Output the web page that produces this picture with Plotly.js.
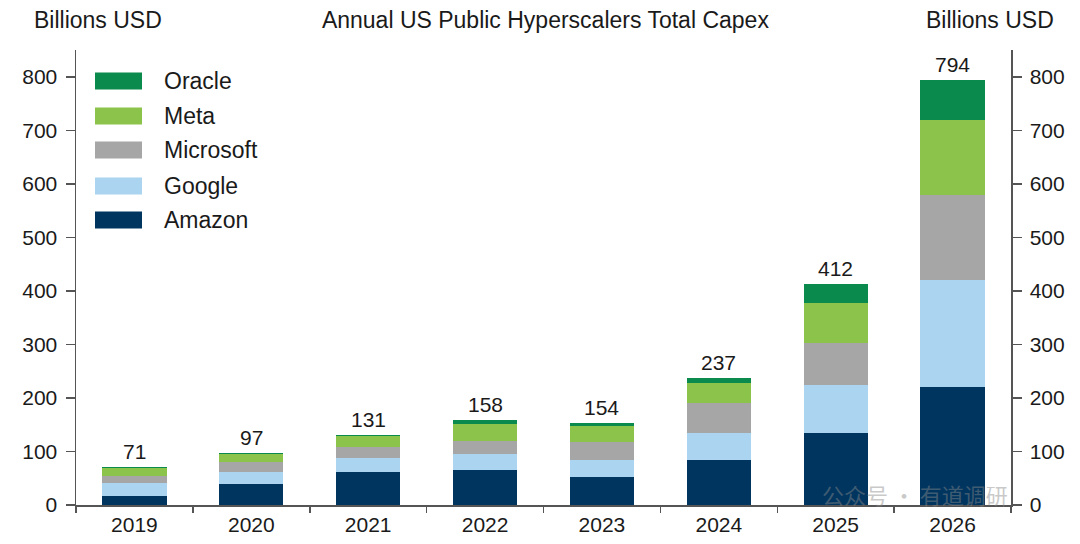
<!DOCTYPE html>
<html><head><meta charset="utf-8">
<script src="https://cdn.plot.ly/plotly-3.0.1.min.js"></script>
<style>html,body{margin:0;padding:0;background:#fff}</style>
</head><body>
<div id="chart" style="width:1080px;height:544px"></div>
<script>
// ---- data ----
const years = ['2019', '2020', '2021', '2022', '2023', '2024', '2025', '2026'];
const amazon    = [17, 40, 62, 66, 52, 84, 134, 220];
const google    = [24, 22, 25, 29, 32, 50, 90, 200];
const microsoft = [14, 18, 22, 25, 34, 56, 79, 160];
const meta      = [15, 15, 19, 32, 29, 38, 75, 140];
const oracle    = [1, 2, 3, 6, 7, 9, 34, 74];
const totals    = [71, 97, 131, 158, 154, 237, 412, 794];
const yTicks    = [0, 100, 200, 300, 400, 500, 600, 700, 800];

const seriesNames  = ['Amazon', 'Google', 'Microsoft', 'Meta', 'Oracle'];
const seriesValues = [amazon, google, microsoft, meta, oracle];
const seriesColors = ['#00355f', '#aad4f0', '#a6a6a6', '#8cc34a', '#0a8a4c'];

// ---- layout geometry (pixels) ----
const W = 1080, H = 544;
const M = {l: 76, r: 69, t: 50, b: 39};
const PW = W - M.l - M.r, PH = H - M.t - M.b;
const px = x => (x - M.l) / PW;
const py = y => (H - M.b - y) / PH;
const FONT = '"Liberation Sans", Arial, sans-serif';
const TXT = '#1a1a1a';
const AX = '#555555';

const traces = seriesNames.map((name, i) => ({
  type: 'bar', name: name, x: years, y: seriesValues[i],
  marker: {color: seriesColors[i], line: {width: 0}},
  hoverinfo: 'x+y+name', showlegend: false
}));
// invisible trace on the right axis so y2 is drawn
traces.push({type: 'scatter', x: years, y: totals, yaxis: 'y2', mode: 'markers',
  marker: {opacity: 0}, showlegend: false, hoverinfo: 'skip'});

const annotations = [];
const shapes = [];
years.forEach((yr, i) => {
  annotations.push({x: i, y: totals[i], xref: 'x', yref: 'y', text: String(totals[i]),
    showarrow: false, yanchor: 'bottom', yshift: 2, font: {family: FONT, size: 21, color: TXT}});
});
// header texts
annotations.push({xref: 'paper', yref: 'paper', x: px(32), y: py(20), xanchor: 'left', yanchor: 'middle',
  text: 'Billions USD', showarrow: false, font: {family: FONT, size: 23, color: TXT}});
annotations.push({xref: 'paper', yref: 'paper', x: px(1056), y: py(20), xanchor: 'right', yanchor: 'middle',
  text: 'Billions USD', showarrow: false, font: {family: FONT, size: 23, color: TXT}});
// custom legend (top to bottom: Oracle ... Amazon)
const legendY = [81, 116, 150, 186, 220];
for (let k = 0; k < seriesNames.length; k++) {
  const i = seriesNames.length - 1 - k;
  const cy = legendY[k];
  shapes.push({type: 'rect', xref: 'paper', yref: 'paper', x0: px(95), x1: px(142),
    y0: py(cy + 8.5), y1: py(cy - 8.5), fillcolor: seriesColors[i], line: {width: 0}});
  annotations.push({xref: 'paper', yref: 'paper', x: px(162), y: py(cy), xanchor: 'left', yanchor: 'middle',
    text: seriesNames[i], showarrow: false, font: {family: FONT, size: 23, color: TXT}});
}
// watermark
annotations.push({xref: 'paper', yref: 'paper', x: px(915), y: py(494), xanchor: 'center', yanchor: 'middle',
  text: '公众号 · 有道调研', showarrow: false, opacity: 0.45,
  font: {family: '"Noto Sans CJK SC", sans-serif', size: 22, color: '#8a8a8a'}});

const layout = {
  width: W, height: H,
  margin: M,
  paper_bgcolor: '#ffffff', plot_bgcolor: '#ffffff',
  barmode: 'stack', bargap: 0.45,
  showlegend: false,
  title: {text: 'Annual US Public Hyperscalers Total Capex', x: 0.505, xanchor: 'center',
    y: 1 - 20 / H, yanchor: 'middle', font: {family: FONT, size: 23, color: TXT}},
  font: {family: FONT, size: 21, color: TXT},
  xaxis: {type: 'category', showgrid: false, zeroline: false, showline: true,
    linecolor: AX, linewidth: 2, ticks: 'outside', tickson: 'boundaries', ticklen: 6,
    tickcolor: AX, tickwidth: 1.5, tickfont: {family: FONT, size: 21, color: TXT},
    range: [-0.5, 7.5], fixedrange: true},
  yaxis: {range: [0, 850], tickvals: yTicks, showgrid: false, zeroline: false, showline: true,
    linecolor: AX, linewidth: 1.5, ticks: 'outside', ticklen: 9, tickcolor: AX, tickwidth: 1.5,
    tickfont: {family: FONT, size: 21, color: TXT}, ticklabelstandoff: 4},
  yaxis2: {range: [0, 850], tickvals: yTicks, overlaying: 'y', side: 'right', showgrid: false,
    zeroline: false, showline: true, linecolor: AX, linewidth: 1.5, ticks: 'outside', ticklen: 9,
    tickcolor: AX, tickwidth: 1.5, tickfont: {family: FONT, size: 21, color: TXT}, ticklabelstandoff: 4},
  annotations: annotations,
  shapes: shapes
};

Plotly.newPlot('chart', traces, layout, {displayModeBar: false, staticPlot: true});
</script>
</body></html>
